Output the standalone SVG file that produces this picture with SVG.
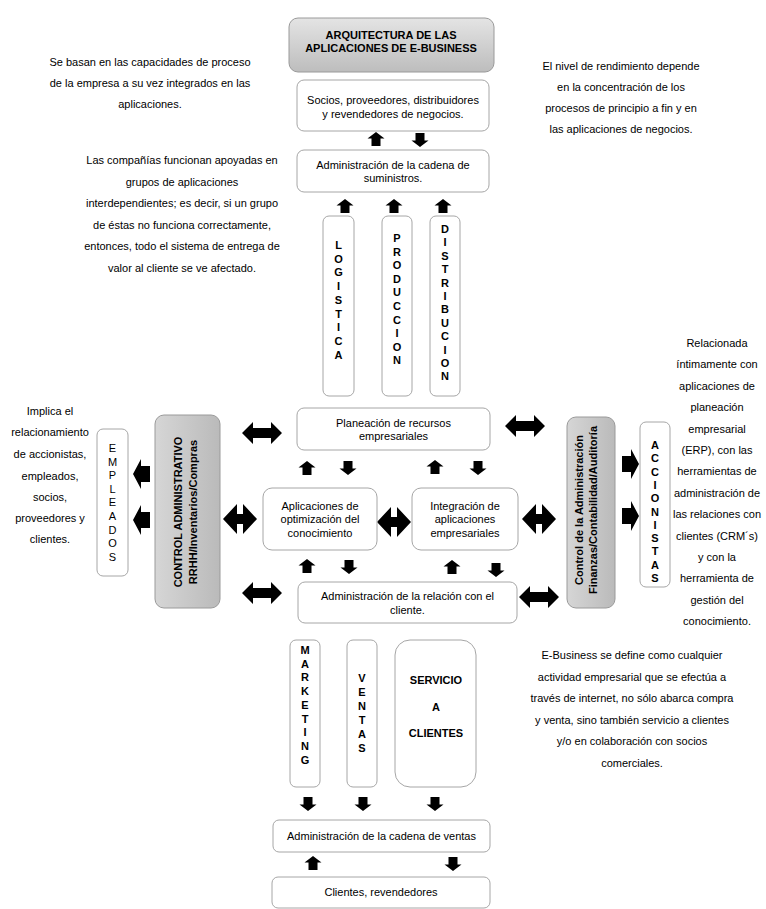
<svg xmlns="http://www.w3.org/2000/svg" width="766" height="909" viewBox="0 0 766 909">
<style>
.bx{fill:#fff;stroke:#a6a6a6;stroke-width:1}
.gr{stroke:#9a9a9a;stroke-width:1}
.t{font-family:"Liberation Sans",Arial,sans-serif;font-size:11px;fill:#000;text-anchor:middle}
.b{font-weight:bold}
.v{font-family:"Liberation Sans",Arial,sans-serif;font-size:11px;font-weight:bold;fill:#000;text-anchor:middle}
.ar{fill:#000}
</style>
<defs>
<linearGradient id="gv" x1="0" y1="0" x2="0" y2="1"><stop offset="0" stop-color="#e4e4e4"/><stop offset="1" stop-color="#bdbdbd"/></linearGradient>
<linearGradient id="gh" x1="0" y1="0" x2="1" y2="0"><stop offset="0" stop-color="#d6d6d6"/><stop offset="1" stop-color="#bababa"/></linearGradient>
<path id="up" d="M0,-7 L8.5,-0.5 L4.5,-0.5 L4.5,7 L-4.5,7 L-4.5,-0.5 L-8.5,-0.5 Z"/>
<path id="dn" d="M0,7 L8.5,0.5 L4.5,0.5 L4.5,-7 L-4.5,-7 L-4.5,0.5 L-8.5,0.5 Z"/>
<path id="dbl" d="M-20,0 L-9,-11 L-9,-5 L9,-5 L9,-11 L20,0 L9,11 L9,5 L-9,5 L-9,11 Z"/>
<path id="dbs" d="M-17,0 L-3,-15 L-3,-5 L3,-5 L3,-15 L17,0 L3,15 L3,5 L-3,5 L-3,15 Z"/>
<path id="lf" d="M-9,0 L-1,-15 L-1,-8 L8,-8 L8,8 L-1,8 L-1,15 Z"/>
<path id="rt" d="M9,0 L1,-15 L1,-8 L-8,-8 L-8,8 L1,8 L1,15 Z"/>
</defs>
<rect width="766" height="909" fill="#fff"/>

<g id="connectors" class="ar">
<use href="#up" x="376" y="139"/>
<use href="#dn" x="420" y="140"/>
<use href="#up" x="345" y="206"/>
<use href="#up" x="394" y="206"/>
<use href="#up" x="443" y="206"/>
<use href="#dbl" x="262" y="433"/>
<use href="#dbl" x="525" y="426"/>
<use href="#up" x="307" y="468"/>
<use href="#dn" x="348" y="468"/>
<use href="#up" x="435" y="467"/>
<use href="#dn" x="478" y="468"/>
<use href="#dbs" x="240" y="519"/>
<use href="#dbs" x="394" y="522"/>
<use href="#dbs" x="539" y="519"/>
<use href="#up" x="307" y="566"/>
<use href="#dn" x="349" y="567"/>
<use href="#up" x="452" y="567"/>
<use href="#dn" x="496" y="570"/>
<use href="#dbl" x="262" y="593"/>
<use href="#dbl" x="539" y="597"/>
<use href="#lf" x="142" y="474"/>
<use href="#lf" x="142" y="520"/>
<use href="#rt" x="630" y="464"/>
<use href="#rt" x="630" y="516"/>
<use href="#dn" x="308" y="804"/>
<use href="#dn" x="363" y="804"/>
<use href="#dn" x="435" y="804"/>
<use href="#up" x="313" y="863"/>
<use href="#dn" x="453" y="864"/>
</g>

<g id="title">
<rect x="289" y="18" width="205" height="54" rx="9" fill="url(#gv)" class="gr"/>
<text class="t b"><tspan x="391" y="39">ARQUITECTURA DE LAS</tspan><tspan x="391" y="52">APLICACIONES DE E-BUSINESS</tspan></text>
</g>

<g id="note-capacidades">
<text class="t"><tspan x="150" y="66">Se basan en las capacidades de proceso</tspan><tspan x="150" y="87">de la empresa a su vez integrados en las</tspan><tspan x="150" y="108">aplicaciones.</tspan></text>
</g>

<g id="note-rendimiento">
<text class="t"><tspan x="621" y="70">El nivel de rendimiento depende</tspan><tspan x="621" y="91">en la concentración de los</tspan><tspan x="621" y="112">procesos de principio a fin y en</tspan><tspan x="621" y="133">las aplicaciones de negocios.</tspan></text>
</g>

<g id="note-companias">
<text class="t"><tspan x="182" y="164">Las compañías funcionan apoyadas en</tspan><tspan x="182" y="186">grupos de aplicaciones</tspan><tspan x="182" y="207">interdependientes; es decir, si un grupo</tspan><tspan x="182" y="229">de éstas no funciona correctamente,</tspan><tspan x="182" y="250">entonces, todo el sistema de entrega de</tspan><tspan x="182" y="272">valor al cliente se ve afectado.</tspan></text>
</g>

<g id="socios">
<rect class="bx" x="297" y="80" width="192" height="51" rx="7"/>
<text class="t"><tspan x="393" y="104">Socios, proveedores, distribuidores</tspan><tspan x="393" y="118">y revendedores de negocios.</tspan></text>
</g>

<g id="suministros">
<rect class="bx" x="297" y="150" width="192" height="42" rx="7"/>
<text class="t"><tspan x="393" y="169">Administración de la cadena de</tspan><tspan x="393" y="182">suministros.</tspan></text>
</g>

<g id="logistica">
<rect class="bx" x="323" y="216" width="31" height="180" rx="6"/>
<text class="v"><tspan x="338.5" y="249">L</tspan><tspan x="338.5" y="262.7">O</tspan><tspan x="338.5" y="276.4">G</tspan><tspan x="338.5" y="290.1">I</tspan><tspan x="338.5" y="303.8">S</tspan><tspan x="338.5" y="317.5">T</tspan><tspan x="338.5" y="331.2">I</tspan><tspan x="338.5" y="344.9">C</tspan><tspan x="338.5" y="358.6">A</tspan></text>
</g>

<g id="produccion">
<rect class="bx" x="382" y="216" width="30" height="180" rx="6"/>
<text class="v"><tspan x="397" y="242">P</tspan><tspan x="397" y="255.6">R</tspan><tspan x="397" y="269.2">O</tspan><tspan x="397" y="282.8">D</tspan><tspan x="397" y="296.4">U</tspan><tspan x="397" y="310">C</tspan><tspan x="397" y="323.6">C</tspan><tspan x="397" y="337.2">I</tspan><tspan x="397" y="350.8">O</tspan><tspan x="397" y="364.4">N</tspan></text>
</g>

<g id="distribucion">
<rect class="bx" x="430" y="216" width="30" height="180" rx="6"/>
<text class="v"><tspan x="445" y="233">D</tspan><tspan x="445" y="246.4">I</tspan><tspan x="445" y="259.8">S</tspan><tspan x="445" y="273.2">T</tspan><tspan x="445" y="286.6">R</tspan><tspan x="445" y="300">I</tspan><tspan x="445" y="313.4">B</tspan><tspan x="445" y="326.8">U</tspan><tspan x="445" y="340.2">C</tspan><tspan x="445" y="353.6">I</tspan><tspan x="445" y="367">O</tspan><tspan x="445" y="380.4">N</tspan></text>
</g>

<g id="note-implica">
<text class="t"><tspan x="50" y="415">Implica el</tspan><tspan x="50" y="436">relacionamiento</tspan><tspan x="50" y="458">de accionistas,</tspan><tspan x="50" y="480">empleados,</tspan><tspan x="50" y="501">socios,</tspan><tspan x="50" y="522">proveedores y</tspan><tspan x="50" y="543">clientes.</tspan></text>
</g>

<g id="empleados">
<rect class="bx" x="97" y="429" width="31" height="147" rx="6"/>
<text class="t"><tspan x="112.5" y="452">E</tspan><tspan x="112.5" y="465.6">M</tspan><tspan x="112.5" y="479.2">P</tspan><tspan x="112.5" y="492.8">L</tspan><tspan x="112.5" y="506.4">E</tspan><tspan x="112.5" y="520">A</tspan><tspan x="112.5" y="533.6">D</tspan><tspan x="112.5" y="547.2">O</tspan><tspan x="112.5" y="560.8">S</tspan></text>
</g>

<g id="control-administrativo">
<rect x="155" y="415" width="65" height="193" rx="9" fill="url(#gh)" class="gr"/>
<text class="t b" transform="translate(182,512) rotate(-90)"><tspan x="0" y="0">CONTROL ADMINISTRATIVO</tspan><tspan x="0" y="15">RRHH/Inventarios/Compras</tspan></text>
</g>

<g id="planeacion">
<rect class="bx" x="297" y="408" width="193" height="42" rx="7"/>
<text class="t"><tspan x="393.5" y="427">Planeación de recursos</tspan><tspan x="393.5" y="440">empresariales</tspan></text>
</g>

<g id="optimizacion">
<rect class="bx" x="263" y="488" width="114" height="62" rx="9"/>
<text class="t"><tspan x="320" y="510">Aplicaciones de</tspan><tspan x="320" y="523">optimización del</tspan><tspan x="320" y="537">conocimiento</tspan></text>
</g>

<g id="integracion">
<rect class="bx" x="412" y="488" width="106" height="62" rx="9"/>
<text class="t"><tspan x="465" y="510">Integración de</tspan><tspan x="465" y="523">aplicaciones</tspan><tspan x="465" y="537">empresariales</tspan></text>
</g>

<g id="relacion-cliente">
<rect class="bx" x="298" y="582" width="219" height="41" rx="7"/>
<text class="t"><tspan x="407.5" y="600">Administración de la relación con el</tspan><tspan x="407.5" y="614">cliente.</tspan></text>
</g>

<g id="control-finanzas">
<rect x="567" y="417" width="48" height="191" rx="9" fill="url(#gh)" class="gr"/>
<text class="t b" transform="translate(583,510) rotate(-90)"><tspan x="0" y="0">Control de la Administración</tspan><tspan x="0" y="14">Finanzas/Contabilidad/Auditoría</tspan></text>
</g>

<g id="accionistas">
<rect class="bx" x="640" y="422" width="30" height="165" rx="6"/>
<text class="v"><tspan x="655" y="449">A</tspan><tspan x="655" y="462.3">C</tspan><tspan x="655" y="475.6">C</tspan><tspan x="655" y="488.9">I</tspan><tspan x="655" y="502.2">O</tspan><tspan x="655" y="515.5">N</tspan><tspan x="655" y="528.8">I</tspan><tspan x="655" y="542.1">S</tspan><tspan x="655" y="555.4">T</tspan><tspan x="655" y="568.7">A</tspan><tspan x="655" y="582">S</tspan></text>
</g>

<g id="note-relacionada">
<text class="t"><tspan x="717" y="347">Relacionada</tspan><tspan x="717" y="368.4">íntimamente con</tspan><tspan x="717" y="389.8">aplicaciones de</tspan><tspan x="717" y="411.2">planeación</tspan><tspan x="717" y="432.6">empresarial</tspan><tspan x="717" y="454">(ERP), con las</tspan><tspan x="717" y="475.4">herramientas de</tspan><tspan x="717" y="496.8">administración de</tspan><tspan x="717" y="518.2">las relaciones con</tspan><tspan x="717" y="539.6">clientes (CRM´s)</tspan><tspan x="717" y="561">y con la</tspan><tspan x="717" y="582.4">herramienta de</tspan><tspan x="717" y="603.8">gestión del</tspan><tspan x="717" y="625.2">conocimiento.</tspan></text>
</g>

<g id="marketing">
<rect class="bx" x="290" y="640" width="30" height="147" rx="6"/>
<text class="v"><tspan x="305" y="654">M</tspan><tspan x="305" y="667.7">A</tspan><tspan x="305" y="681.4">R</tspan><tspan x="305" y="695.1">K</tspan><tspan x="305" y="708.8">E</tspan><tspan x="305" y="722.5">T</tspan><tspan x="305" y="736.2">I</tspan><tspan x="305" y="749.9">N</tspan><tspan x="305" y="763.6">G</tspan></text>
</g>

<g id="ventas">
<rect class="bx" x="347" y="640" width="30" height="147" rx="6"/>
<text class="v"><tspan x="362" y="682">V</tspan><tspan x="362" y="696">E</tspan><tspan x="362" y="710">N</tspan><tspan x="362" y="724">T</tspan><tspan x="362" y="738">A</tspan><tspan x="362" y="752">S</tspan></text>
</g>

<g id="servicio">
<rect class="bx" x="395" y="640" width="81" height="147" rx="15"/>
<text class="v"><tspan x="436" y="684">SERVICIO</tspan><tspan x="436" y="711">A</tspan><tspan x="436" y="737">CLIENTES</tspan></text>
</g>

<g id="note-ebusiness">
<text class="t"><tspan x="632" y="659">E-Business se define como cualquier</tspan><tspan x="632" y="680.6">actividad empresarial que se efectúa a</tspan><tspan x="632" y="702.2">través de internet, no sólo abarca compra</tspan><tspan x="632" y="723.8">y venta, sino también servicio a clientes</tspan><tspan x="632" y="745.4">y/o en colaboración con socios</tspan><tspan x="632" y="767">comerciales.</tspan></text>
</g>

<g id="cadena-ventas">
<rect class="bx" x="273" y="820" width="217" height="32" rx="6"/>
<text class="t"><tspan x="381.5" y="840">Administración de la cadena de ventas</tspan></text>
</g>

<g id="clientes">
<rect class="bx" x="272" y="877" width="218" height="31" rx="6"/>
<text class="t"><tspan x="381" y="896">Clientes, revendedores</tspan></text>
</g>
</svg>
